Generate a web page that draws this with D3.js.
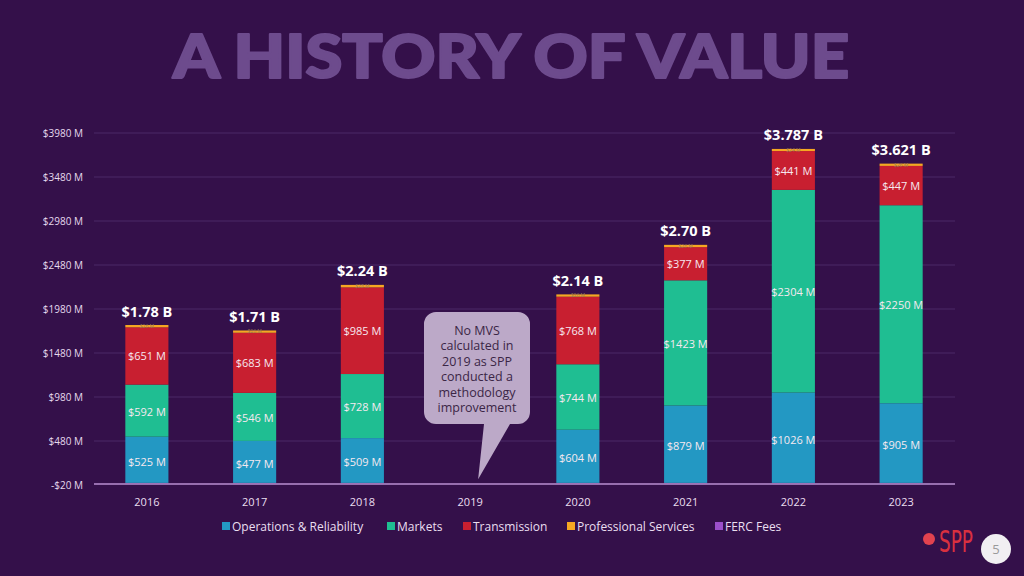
<!DOCTYPE html>
<html><head><meta charset="utf-8">
<script src="https://cdn.jsdelivr.net/npm/d3@7"></script>
<style>html,body{margin:0;padding:0;background:#34104a;}svg{display:block;}</style>
</head><body>
<svg id="c" width="1024" height="576"></svg>
<script>
const years = ["2016","2017","2018","2019","2020","2021","2022","2023"];
const opsValues    = [525, 477, 509, null, 604, 879, 1026, 905];
const marketValues = [592, 546, 728, null, 744, 1423, 2304, 2250];
const transValues  = [651, 683, 985, null, 768, 377, 441, 447];
const profValues   = [26, 26, 28, null, 26, 26, 24, 26];
const fercValues   = [4, 4, 4, null, 4, 4, 4, 4];
const totalLabels  = ["$1.78 B","$1.71 B","$2.24 B",null,"$2.14 B","$2.70 B","$3.787 B","$3.621 B"];
const yTicks = [-20, 480, 980, 1480, 1980, 2480, 2980, 3480, 3980];
const seriesNames = ["Operations & Reliability","Markets","Transmission","Professional Services","FERC Fees"];
const seriesKeys = ["ops","markets","trans","prof","ferc"];
const colors = {ops:"#2398c3", markets:"#1fbe92", trans:"#c81f30", prof:"#f6a722", ferc:"#9b4fca"};
const calloutLines = ["No MVS","calculated in","2019 as SPP","conducted a","methodology","improvement"];

const svg = d3.select("#c");
const F = "'Open Sans', 'Noto Sans', sans-serif";

// title
svg.append("text").attr("x",173).attr("y",78)
  .attr("textLength",676).attr("lengthAdjust","spacingAndGlyphs")
  .style("font-family","Lato, 'Open Sans', sans-serif").style("font-weight",900)
  .style("font-size","60px").attr("fill","#6d4b8d")
  .attr("stroke","#6d4b8d").attr("stroke-width",2.2).attr("stroke-linejoin","round")
  .text("A HISTORY OF VALUE");

const x = d3.scaleBand().domain(years).range([93,955]).paddingInner(0.6).paddingOuter(0.3);
const y = d3.scaleLinear().domain([-20,3980]).range([485,133]);

// grid
svg.append("g").selectAll("line").data(yTicks.slice(1)).join("line")
  .attr("x1",94).attr("x2",955).attr("y1",d=>y(d)).attr("y2",d=>y(d))
  .attr("stroke","#4b2866").attr("stroke-width",1);

// y axis
const yAxis = d3.axisLeft(y).tickValues(yTicks).tickSize(0).tickPadding(0)
  .tickFormat(d => (d<0?"-$":"$") + Math.abs(d) + " M");
const gy = svg.append("g").attr("transform","translate(83,0)").call(yAxis);
gy.select(".domain").remove();
gy.selectAll("text").style("font-family",F).style("font-size","10px").attr("fill","#e6d9ee");

// data table
const rows = years.map((yr,i)=>({year:yr, ops:opsValues[i], markets:marketValues[i], trans:transValues[i], prof:profValues[i], ferc:fercValues[i], total:totalLabels[i]}))
  .filter(r=>r.ops!==null);
const stackGen = d3.stack().keys(["ferc","ops","markets","trans","prof"]);
const stacked = stackGen(rows);

const bars = svg.append("g");
stacked.forEach(s=>{
  bars.append("g").attr("fill",colors[s.key]).selectAll("rect").data(s).join("rect")
    .attr("x",d=>x(d.data.year)).attr("width",x.bandwidth())
    .attr("y",d=>y(d[1])).attr("height",d=>y(d[0])-y(d[1]));
});

// segment labels
const labelShift = {ops:6, markets:5, trans:4.5};
stacked.filter(s=>["ops","markets","trans"].includes(s.key)).forEach(s=>{
  bars.append("g").selectAll("text").data(s).join("text")
    .attr("x",d=>x(d.data.year)+x.bandwidth()/2)
    .attr("y",d=>(y(d[0])+y(d[1]))/2+labelShift[s.key])
    .attr("text-anchor","middle").style("font-family",F).style("font-size","11px")
    .attr("fill","#f6e9f0").text(d=>"$"+d.data[s.key]+" M");
});
// tiny professional services labels
stacked.filter(s=>s.key==="prof").forEach(s=>{
  bars.append("g").selectAll("text").data(s).join("text")
    .attr("x",d=>x(d.data.year)+x.bandwidth()/2)
    .attr("y",d=>y(d[1])+3)
    .attr("text-anchor","middle").style("font-family",F).style("font-size","5px")
    .attr("fill","#9a7a55").text(d=>"$"+d.data.prof+" M");
});

// totals
const topSeries = stacked[stacked.length-1];
svg.append("g").selectAll("text").data(topSeries).join("text")
  .attr("x",d=>x(d.data.year)+x.bandwidth()/2).attr("y",d=>y(d[1])-8.5)
  .attr("text-anchor","middle").style("font-family",F).style("font-weight",700)
  .style("font-size","14.5px").attr("fill","#ffffff").text(d=>d.data.total);

// x axis
svg.append("line").attr("x1",94).attr("x2",955).attr("y1",y(-20)-1).attr("y2",y(-20)-1)
  .attr("stroke","#b98fd2").attr("stroke-width",1.5);
const xAxis = d3.axisBottom(x).tickSize(0).tickPadding(0);
const gx = svg.append("g").attr("transform","translate(0,506)").call(xAxis);
gx.select(".domain").remove();
gx.selectAll("text").attr("dy",0).style("font-family",F).style("font-size","11px").attr("fill","#eadff0");

// callout for 2019
const cx = x("2019")+x.bandwidth()/2;
const cg = svg.append("g");
const bx0=424, bx1=530, by0=312, by1=424, r=12;
const tipX = cx+8, tipY = y(0)-4;
const path = d3.path();
path.moveTo(bx0+r,by0); path.lineTo(bx1-r,by0); path.arcTo(bx1,by0,bx1,by0+r,r);
path.lineTo(bx1,by1-r); path.arcTo(bx1,by1,bx1-r,by1,r);
path.lineTo(510,by1); path.lineTo(tipX,tipY); path.lineTo(484,by1);
path.lineTo(bx0+r,by1); path.arcTo(bx0,by1,bx0,by1-r,r);
path.lineTo(bx0,by0+r); path.arcTo(bx0,by0,bx0+r,by0,r); path.closePath();
cg.append("path").attr("d",path.toString()).attr("fill","#bca9c8");
cg.append("g").selectAll("text").data(calloutLines).join("text")
  .attr("x",(bx0+bx1)/2).attr("y",(d,i)=>335+i*15.4).attr("text-anchor","middle")
  .style("font-family",F).style("font-size","12.5px").attr("fill","#3b2646").text(d=>d);

// legend
const legX = [222, 387, 463, 567, 715];
const lg = svg.append("g");
seriesKeys.forEach((k,i)=>{
  lg.append("rect").attr("x",legX[i]).attr("y",522).attr("width",8).attr("height",8).attr("fill",colors[k]);
  lg.append("text").attr("x",legX[i]+10).attr("y",530.5).style("font-family",F).style("font-size","12px")
    .attr("fill","#eadff0").text(seriesNames[i]);
});

// logo
svg.append("circle").attr("cx",929).attr("cy",539).attr("r",6).attr("fill","#e2434f");
svg.append("text").attr("x",939).attr("y",553).attr("textLength",34).attr("lengthAdjust","spacingAndGlyphs")
  .attr("transform","translate(0,-1)")
  .style("font-family","'Liberation Sans Narrow', 'DejaVu Sans Condensed', sans-serif").style("font-size","31px")
  .attr("fill","#d9303f").text("SPP");
svg.append("circle").attr("cx",996).attr("cy",549).attr("r",15).attr("fill","#f1eff2");
svg.append("text").attr("x",996).attr("y",554).attr("text-anchor","middle").style("font-family",F)
  .style("font-size","13px").attr("fill","#9a9a9a").text("5");
</script>
</body></html>
